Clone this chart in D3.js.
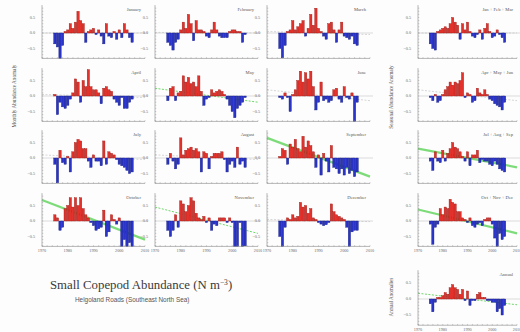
<!DOCTYPE html>
<html><head><meta charset="utf-8">
<script src="https://cdn.jsdelivr.net/npm/d3@7/dist/d3.min.js"></script>
<style>body{margin:0;background:#fff}svg{display:block}</style>
</head><body>
<svg id="chart" width="520" height="332"></svg>
<script>
// Helgoland Roads small copepod abundance anomalies, 1975-2005
const years = [1975,1976,1977,1978,1979,1980,1981,1982,1983,1984,1985,1986,1987,1988,1989,1990,
               1991,1992,1993,1994,1995,1996,1997,1998,1999,2000,2001,2002,2003,2004,2005];

const jan = [-0.35,-0.45,-0.85,-0.4,0.05,0.1,0.3,0.15,0.35,0.7,0.4,0.3,-0.3,0.05,0.1,0.15,-0.05,0.1,-0.1,-0.35,0.3,-0.1,-0.15,0.05,-0.2,0.1,-0.15,0.3,0.1,-0.15,-0.3];
const feb = [-0.3,-0.4,-0.55,-0.3,-0.2,0.1,0.35,0.15,0.6,0.3,-0.25,0.4,0.1,0.1,0.05,-0.1,-0.15,0.1,0.35,0.1,-0.1,-0.15,-0.15,-0.15,0.05,0.1,0.1,0.05,0.05,-0.3,-0.05];
const mar = [-0.5,-0.8,-0.4,0.05,0.1,0.4,0.1,0.2,0.3,0.4,-0.1,0.15,0.6,0.25,0.8,0.15,0.05,-0.1,-0.2,0.3,0.35,0.1,-0.3,0.1,0.35,-0.1,-0.15,-0.2,-0.1,-0.35,-0.4];
const apr = [0.05,-0.6,-0.2,-0.35,-0.4,-0.3,-0.1,0.1,0.55,0.45,-0.2,0.5,0.3,0.85,0.3,0.2,0.2,0.1,-0.25,0.25,0.3,0.2,0.15,-0.1,-0.2,-0.3,-0.05,-0.4,-0.4,-0.2,-0.1];
const may = [-0.15,0.25,0.3,-0.15,0.1,0.15,0.65,0.45,0.6,0.4,0.45,0.3,0.65,0.15,-0.3,-0.1,-0.05,0.2,0.1,0.15,0.2,0.15,0.05,-0.1,-0.3,-0.5,-0.7,-0.4,-0.3,-0.2,-0.05];
const jun = [-0.05,-0.1,0.1,-0.05,-0.5,0.05,0.2,0.5,0.8,0.45,0.75,0.55,0.8,0.3,-0.45,-0.2,0.45,-0.15,-0.1,-0.2,-0.15,0.2,0.25,-0.1,-0.2,0.3,-0.05,-0.1,0.1,-0.85,-0.2];
const jul = [-0.2,-0.8,0.25,-0.15,-0.2,0.05,-0.45,0.2,0.5,0.6,0.55,0.3,0.3,-0.1,-0.3,0.1,-0.1,-0.1,-0.25,0.55,-0.2,0.2,0.15,0.1,-0.05,-0.2,-0.25,-0.3,-0.4,-0.5,-0.45];
const aug = [-0.2,0.15,-0.1,-0.35,-0.2,0.65,0.1,0.25,0.3,0.35,0.25,0.3,0.2,-0.45,0.2,0.15,-0.35,0.05,0.15,0.15,0.15,0.2,-0.05,-0.45,-0.2,-0.1,-0.3,0.35,-0.2,-0.1,-0.3];
const sep = [0.05,0.3,0.25,-0.2,0.45,0.35,0.6,0.3,0.2,0.7,0.35,0.55,0.4,0.2,-0.3,0.1,-0.55,0.15,-0.1,-0.45,0.4,-0.3,-0.35,-0.5,-0.35,-0.55,-0.3,-0.5,-0.4,-0.6,-0.45];
const oct = [0.2,0.1,-0.3,-0.2,0.4,0.5,0.75,0.45,0.75,0.5,0.75,0.4,0.2,0.1,-0.05,-0.15,-0.3,-0.25,-0.2,0.35,-0.5,-0.35,0.2,0.05,-0.1,0.1,-0.85,-0.6,-0.85,-0.7,-0.85];
const nov = [-0.3,-0.5,-0.3,0.2,-0.2,0.65,0.55,0.3,0.5,0.75,0.65,0.25,0.1,0.05,0.15,-0.05,0.1,-0.3,-0.1,-0.15,0.1,0.1,0.1,-0.05,0.1,-0.05,-0.85,-0.9,-0.05,-0.85,-0.8];
const dec = [-0.5,-0.85,-0.2,0.1,0.05,0.2,0.1,0.15,0.6,0.45,0.5,0.25,0.4,0.1,0.05,-0.05,-0.1,-0.15,-0.12,-0.05,0.55,0.3,0.2,0.15,0.1,0.05,-0.2,-0.85,-0.35,-0.3,-0.3];
const jfm = [-0.35,-0.5,-0.55,0.05,0.1,0.15,0.2,0.15,0.3,0.5,0.35,0.25,-0.2,0.3,0.1,0.35,0.05,-0.1,-0.15,-0.05,0.1,-0.2,0.15,0.3,0.05,-0.15,-0.1,0.1,-0.05,-0.15,-0.3];
const amj = [-0.05,-0.15,0.05,-0.2,-0.15,0.05,0.2,0.3,0.45,0.35,0.45,0.4,0.5,0.75,-0.05,0.1,0.05,-0.2,-0.15,0.25,0.1,0.05,0.2,0.05,-0.1,-0.15,-0.25,-0.3,-0.35,-0.45,-0.2];
const jas = [-0.1,-0.4,0.2,-0.1,-0.15,0.25,-0.1,0.15,0.3,0.5,0.35,0.3,0.2,0.05,-0.1,0.2,-0.25,0.1,0.1,0.25,-0.15,-0.05,-0.1,-0.1,-0.2,-0.25,-0.1,-0.2,-0.35,-0.4,-0.45];
const ond = [-0.1,-0.75,-0.2,-0.1,0.4,0.2,0.45,0.4,0.7,0.6,0.55,0.3,0.3,0.1,0.05,-0.05,0.1,-0.15,-0.2,-0.1,-0.05,-0.15,0.05,0.1,0.1,-0.1,-0.55,-0.85,-0.4,-0.6,-0.5];
const annual = [-0.15,-0.4,-0.1,0.05,0.05,0.1,0.2,0.15,0.35,0.45,0.35,0.3,0.15,0.3,-0.05,0.25,-0.2,-0.05,-0.05,0.15,0.2,0.05,0.05,-0.05,-0.05,-0.1,-0.1,-0.4,-0.3,-0.5,-0.2];

// fitted linear trend, value at 1970 and at 2010; kind: ns = not significant, weak, sig
const trendStart = {jan:0.0, feb:0.02, mar:0.05, apr:0.05, may:0.25, jun:0.2, jul:0.1, aug:0.1,
  sep:0.65, oct:0.68, nov:0.45, dec:0.05, jfm:0.0, amj:0.2, jas:0.3, ond:0.37, annual:0.18};
const trendEnd = {jan:0.0, feb:0.0, mar:-0.05, apr:-0.05, may:-0.2, jun:-0.15, jul:-0.05, aug:-0.05,
  sep:-0.6, oct:-0.6, nov:-0.4, dec:-0.02, jfm:0.0, amj:-0.15, jas:-0.3, ond:-0.4, annual:-0.18};
const trendKind = {jan:"ns", feb:"ns", mar:"ns", apr:"ns", may:"weak", jun:"ns", jul:"ns", aug:"ns",
  sep:"sig", oct:"sig", nov:"weak", dec:"ns", jfm:"ns", amj:"ns", jas:"sig", ond:"sig", annual:"weak"};

const panelNames = ["January","February","March","April","May","June","July","August",
  "September","October","November","December","Jan + Feb + Mar","Apr + May + Jun",
  "Jul + Aug + Sep","Oct + Nov + Dec","Annual"];
const panelKeys = ["jan","feb","mar","apr","may","jun","jul","aug","sep","oct","nov","dec",
  "jfm","amj","jas","ond","annual"];
const series = {jan,feb,mar,apr,may,jun,jul,aug,sep,oct,nov,dec,jfm,amj,jas,ond,annual};

const yearTicks = [1970,1980,1990,2000,2010];
const valueTicks = [0.5,0.0,-0.5];

const svg = d3.select("#chart");
svg.append("rect").attr("width",520).attr("height",332).attr("fill","#fdfdfd");

// grid of panels: three monthly columns, one seasonal column, annual beneath it
const colX = [[42,145],[155,258],[267,370],[418,517]];
const rowZero = [33,96,158,221];
const pxPerUnit = 31;

function layout(i){
  if (i < 12) return {col: i % 3, row: Math.floor(i/3), zero: rowZero[Math.floor(i/3)], ppu: pxPerUnit, bottomRow: Math.floor(i/3) === 3};
  if (i < 16) return {col: 3, row: i-12, zero: rowZero[i-12], ppu: pxPerUnit, bottomRow: i === 15};
  return {col: 3, row: 4, zero: 299, ppu: 32, bottomRow: true};
}

const axisCol = "#888";
const fs = 4.2;

panelKeys.forEach((key, i) => {
  const L = layout(i);
  const [x0, x1] = colX[L.col];
  const yMin = -0.82, yMax = 0.9;
  const x = d3.scaleLinear().domain([1970, 2010]).range([x0, x1]);
  const y = d3.scaleLinear().domain([yMin, yMax]).range([L.zero - yMin*L.ppu, L.zero - yMax*L.ppu]);
  const g = svg.append("g");
  const vals = series[key];
  const clamp = v => Math.max(yMin, Math.min(yMax, v));

  // zero reference
  g.append("line").attr("x1", x(1970)).attr("x2", x(2010)+3)
    .attr("y1", y(0)).attr("y2", y(0)).attr("stroke", "#c8c8c8").attr("stroke-width", 0.6);

  // trend line
  const kind = trendKind[key];
  const tl = g.append("line")
    .attr("x1", x(1970)).attr("x2", x(2010))
    .attr("y1", y(trendStart[key])).attr("y2", y(trendEnd[key]));
  if (kind === "sig") tl.attr("stroke", "#6fd86a").attr("stroke-width", 2.2).attr("stroke-opacity", 0.9);
  else if (kind === "weak") tl.attr("stroke", "#6fd86a").attr("stroke-width", 1).attr("stroke-dasharray", "2,1.5");
  else tl.attr("stroke", "#c4c4c4").attr("stroke-width", 0.7).attr("stroke-dasharray", "2,1.5");

  // anomaly bars
  const bw = (x(1971) - x(1970));
  g.selectAll("rect.bar").data(years.map((yr, j) => ({yr, v: vals[j]}))).join("rect")
    .attr("class", "bar")
    .attr("x", d => x(d.yr) - bw*0.45)
    .attr("width", bw*0.9)
    .attr("y", d => Math.min(y(0), y(clamp(d.v))))
    .attr("height", d => Math.abs(y(clamp(d.v)) - y(0)))
    .attr("fill", d => d.v >= 0 ? "#e3322c" : "#2a34c8")
    .attr("stroke", d => d.v >= 0 ? "#9c1a16" : "#141c80")
    .attr("stroke-width", 0.4);

  // axes
  const yb = y(yMin);
  g.append("line").attr("x1", x0).attr("x2", x1).attr("y1", yb).attr("y2", yb)
    .attr("stroke", axisCol).attr("stroke-width", 0.6);
  g.append("line").attr("x1", x0).attr("x2", x0).attr("y1", y(yMax)).attr("y2", yb)
    .attr("stroke", axisCol).attr("stroke-width", 0.6);
  const minorX = d3.range(1970, 2011, 2);
  g.selectAll("line.mx").data(minorX).join("line").attr("class","mx")
    .attr("x1", d => x(d)).attr("x2", d => x(d)).attr("y1", yb).attr("y2", yb-1.3)
    .attr("stroke", axisCol).attr("stroke-width", 0.4);
  const minorY = d3.range(-8, 9).map(k => k/10);
  g.selectAll("line.my").data(minorY).join("line").attr("class","my")
    .attr("x1", x0).attr("x2", x0+1.3).attr("y1", d => y(d)).attr("y2", d => y(d))
    .attr("stroke", axisCol).attr("stroke-width", 0.4);

  g.selectAll("text.yt").data(valueTicks).join("text").attr("class","yt")
    .attr("x", x0 - 7).attr("y", d => y(d) + 1.4)
    .attr("text-anchor", "end").attr("font-family", "Liberation Serif, serif")
    .attr("font-size", fs).attr("fill", "#666")
    .text(d => d3.format(".1f")(d));

  if (L.bottomRow) {
    g.selectAll("text.xt").data(yearTicks).join("text").attr("class","xt")
      .attr("x", d => x(d)).attr("y", yb + 6)
      .attr("text-anchor", "middle").attr("font-family", "Liberation Serif, serif")
      .attr("font-size", fs).attr("fill", "#666")
      .text(d => d);
  }

  g.append("text").attr("x", x1 - 4).attr("y", y(yMax) + 6)
    .attr("text-anchor", "end").attr("font-family", "Liberation Serif, serif")
    .attr("font-size", 4.6).attr("fill", "#555").text(panelNames[i]);
});

// axis titles
function vlabel(txt, cx, cy){
  svg.append("text").attr("transform", `translate(${cx},${cy}) rotate(-90)`)
    .attr("text-anchor", "middle").attr("font-family", "Liberation Serif, serif")
    .attr("font-size", 5.2).attr("fill", "#555").text(txt);
}
vlabel("Monthly Abundance Anomaly", 16, 96);
vlabel("Seasonal Abundance Anomaly", 393, 97);
vlabel("Annual Anomalies", 393, 297);

// title block
const title = svg.append("text").attr("x", 50).attr("y", 289)
  .attr("font-family", "Liberation Serif, serif").attr("font-size", 12.8).attr("fill", "#3a3a3a");
title.append("tspan").text("Small Copepod Abundance (N m");
title.append("tspan").attr("dy", -4.5).attr("font-size", 7.5).text("−3");
title.append("tspan").attr("dy", 4.5).text(")");

svg.append("text").attr("x", 75).attr("y", 302)
  .attr("font-family", "Liberation Sans, sans-serif").attr("font-size", 6.4).attr("fill", "#555")
  .text("Helgoland Roads (Southeast North Sea)");
</script>
</body></html>
